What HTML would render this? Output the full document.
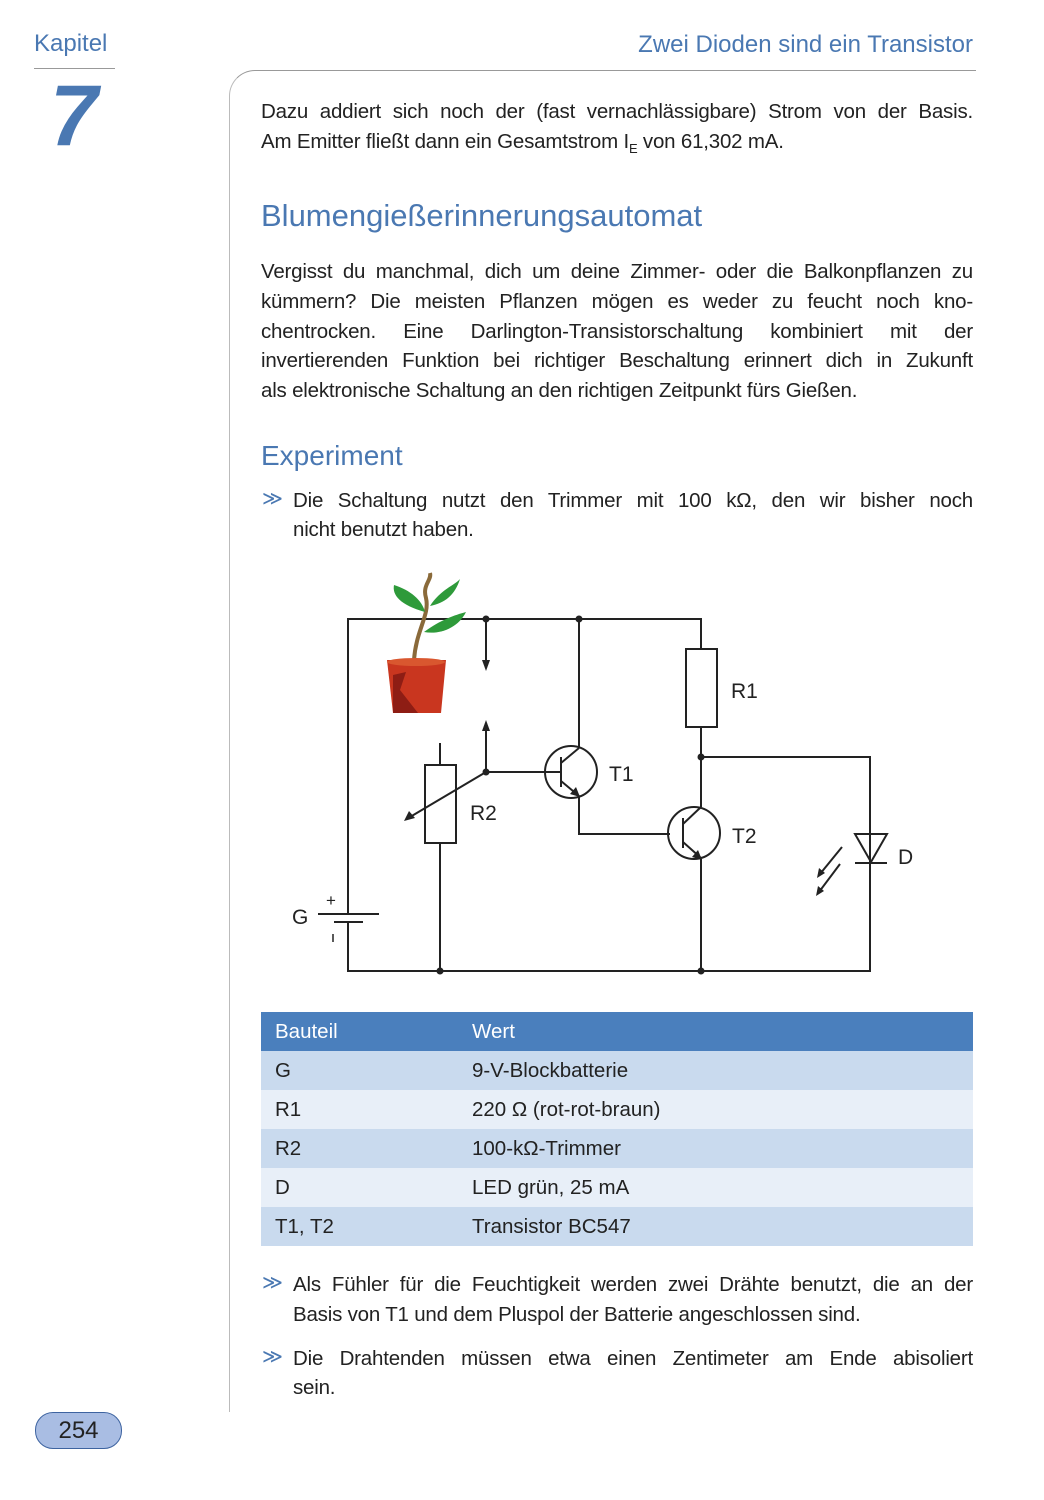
<!DOCTYPE html>
<html><head><meta charset="utf-8"><style>
body{margin:0;background:#fff;}
#p{position:relative;width:1044px;height:1500px;overflow:hidden;font-family:"Liberation Sans",sans-serif;color:#222;}
.a{position:absolute;}
.blue{color:#4a78b2;}
.ln{position:absolute;left:261px;width:712px;font-size:20.5px;line-height:30px;text-align:justify;text-align-last:justify;white-space:nowrap;letter-spacing:-0.2px;}
.ll{text-align-last:left;}
.bl{left:293px;width:680px;}
.chev{position:absolute;left:262px;font-size:20px;color:#4a78b2;}
table{position:absolute;left:261px;top:1012px;width:712px;border-collapse:collapse;font-size:20.5px;}
td{height:39px;padding:0 0 0 14px;}
</style></head><body><div id="p">
<div class="a blue" style="left:34px;top:30px;font-size:24px;">Kapitel</div>
<div class="a" style="left:34px;top:68px;width:81px;height:1px;background:#999;"></div>
<div class="a blue" style="left:50px;top:66px;font-size:86px;font-weight:bold;font-style:italic;line-height:100px;">7</div>
<div class="a blue" style="right:71px;top:31px;font-size:24px;">Zwei Dioden sind ein Transistor</div>
<div class="a" style="left:229px;top:70px;width:746px;height:1400px;border-left:1px solid #bbb;border-top:1px solid #999;border-top-left-radius:26px;"></div>
<div class="a" style="left:229px;top:1412px;width:3px;height:100px;background:#fff;"></div>

<div class="ln" style="top:97px;">Dazu addiert sich noch der (fast vernachlässigbare) Strom von der Basis.</div>
<div class="ln ll" style="top:127px;">Am Emitter fließt dann ein Gesamtstrom I<sub style="font-size:13px">E</sub> von 61,302 mA.</div>

<div class="a blue" style="left:261px;top:198px;font-size:31px;">Blumengießerinnerungsautomat</div>
<div class="ln" style="top:257px;">Vergisst du manchmal, dich um deine Zimmer- oder die Balkonpflanzen zu</div>
<div class="ln" style="top:287px;">kümmern? Die meisten Pflanzen mögen es weder zu feucht noch kno-</div>
<div class="ln" style="top:317px;">chentrocken. Eine Darlington-Transistorschaltung kombiniert mit der</div>
<div class="ln" style="top:346px;">invertierenden Funktion bei richtiger Beschaltung erinnert dich in Zukunft</div>
<div class="ln ll" style="top:376px;">als elektronische Schaltung an den richtigen Zeitpunkt fürs Gießen.</div>

<div class="a blue" style="left:261px;top:440px;font-size:28px;">Experiment</div>
<div class="chev" style="top:486px;">≫</div>
<div class="ln bl" style="top:486px;">Die Schaltung nutzt den Trimmer mit 100 kΩ, den wir bisher noch</div>
<div class="ln bl ll" style="top:515px;">nicht benutzt haben.</div>

<svg class="a" style="left:0;top:0" width="1044" height="1000" viewBox="0 0 1044 1000">
<g stroke="#222" stroke-width="2" fill="none">
<polyline points="348,914 348,619 701,619 701,649"/>
<polyline points="348,922 348,971 870,971 870,757 701,757"/>
<rect x="686" y="649" width="31" height="78"/>
<line x1="701" y1="727" x2="701" y2="807"/>
<line x1="701" y1="859" x2="701" y2="971"/>
<line x1="486" y1="619" x2="486" y2="665"/>
<line x1="486" y1="730" x2="486" y2="772"/>
<line x1="486" y1="772" x2="561" y2="772"/>
<circle cx="571" cy="772" r="26"/>
<line x1="561" y1="757" x2="561" y2="787"/>
<line x1="579" y1="619" x2="579" y2="748"/>
<line x1="561" y1="763" x2="579" y2="748"/>
<line x1="561" y1="781" x2="579" y2="796"/>
<polyline points="579,796 579,834 670,834"/>
<circle cx="694" cy="833" r="26"/>
<line x1="683" y1="818" x2="683" y2="848"/>
<line x1="683" y1="824" x2="701" y2="807"/>
<line x1="683" y1="842" x2="701" y2="858"/>
<rect x="425" y="765" width="31" height="78"/>
<line x1="440" y1="743" x2="440" y2="765"/>
<line x1="440" y1="843" x2="440" y2="971"/>
<line x1="486" y1="772" x2="410" y2="817"/>
<line x1="318" y1="914" x2="379" y2="914"/>
<line x1="334" y1="922" x2="363" y2="922"/>
<polygon points="855,834 887,834 871,862"/>
<line x1="855" y1="863" x2="887" y2="863"/>
<line x1="842" y1="847" x2="820" y2="874"/>
<line x1="840" y1="864" x2="819" y2="892"/>
</g>
<g fill="#222">
<circle cx="486" cy="619" r="3.5"/><circle cx="579" cy="619" r="3.5"/>
<circle cx="486" cy="772" r="3.5"/><circle cx="701" cy="757" r="3.5"/>
<circle cx="440" cy="971" r="3.5"/><circle cx="701" cy="971" r="3.5"/>
<polygon points="482,660 490,660 486,671"/>
<polygon points="482,731 490,731 486,720"/>
<polygon points="404,821 409,811 415,818"/>
<polygon points="580,797 570,794 576,787"/>
<polygon points="702,860 692,857 698,850"/>
<polygon points="817,878 819,868 825,873"/>
<polygon points="816,896 818,886 824,891"/>
</g>
<line x1="333" y1="934" x2="333" y2="942" stroke="#222" stroke-width="1.5"/>
<g font-family="Liberation Sans" font-size="21" fill="#222">
<text x="731" y="698">R1</text><text x="609" y="781">T1</text><text x="470" y="820">R2</text>
<text x="732" y="843">T2</text><text x="898" y="864">D</text><text x="292" y="924">G</text>
<text x="326" y="906" font-size="17">+</text>
</g>
<path d="M414,660 C416,630 430,615 426,598 C422,585 432,580 430,573" stroke="#8a6a3a" stroke-width="4" fill="none"/>
<path d="M425,612 C400,605 392,595 394,585 C410,590 422,600 425,612Z" fill="#2e9a3a"/>
<path d="M430,606 C440,590 455,585 460,579 C455,595 445,603 430,606Z" fill="#2e9a3a"/>
<path d="M424,632 C440,620 455,615 466,612 C458,628 440,635 424,632Z" fill="#2e9a3a"/>
<path d="M387,660 L446,660 L441,713 L393,713Z" fill="#c9361f"/>
<path d="M393,675 L406,672 L400,690 L418,713 L393,713Z" fill="#8e1d14"/>
<ellipse cx="416" cy="662" rx="29" ry="4" fill="#d9572f"/>
</svg>

<table>
<tr style="background:#4a7fbd;color:#fff"><td style="width:183px">Bauteil</td><td>Wert</td></tr>
<tr style="background:#c9daee"><td>G</td><td>9-V-Blockbatterie</td></tr>
<tr style="background:#e8eff8"><td>R1</td><td>220 Ω (rot-rot-braun)</td></tr>
<tr style="background:#c9daee"><td>R2</td><td>100-kΩ-Trimmer</td></tr>
<tr style="background:#e8eff8"><td>D</td><td>LED grün, 25 mA</td></tr>
<tr style="background:#c9daee"><td>T1, T2</td><td>Transistor BC547</td></tr>
</table>

<div class="chev" style="top:1270px;">≫</div>
<div class="ln bl" style="top:1270px;">Als Fühler für die Feuchtigkeit werden zwei Drähte benutzt, die an der</div>
<div class="ln bl ll" style="top:1300px;">Basis von T1 und dem Pluspol der Batterie angeschlossen sind.</div>
<div class="chev" style="top:1344px;">≫</div>
<div class="ln bl" style="top:1344px;">Die Drahtenden müssen etwa einen Zentimeter am Ende abisoliert</div>
<div class="ln bl ll" style="top:1373px;">sein.</div>

<div class="a" style="left:35px;top:1412px;width:85px;height:35px;border:1.5px solid #3d63a0;border-radius:18px;background:#a9bde3;font-size:24px;text-align:center;line-height:35px;">254</div>
</div></body></html>
